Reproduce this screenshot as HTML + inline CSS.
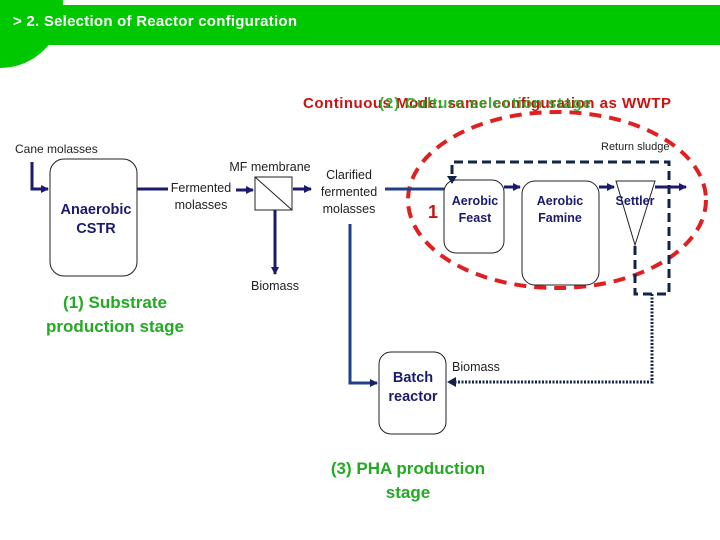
<!DOCTYPE html>
<html><head><meta charset="utf-8"><style>
html,body{margin:0;padding:0;background:#fff;}
svg{display:block}
.s{font-family:"Liberation Sans",sans-serif;}
</style></head><body>
<svg width="720" height="540" viewBox="0 0 720 540" xmlns="http://www.w3.org/2000/svg" class="s">
<defs>
<marker id="a" markerWidth="10" markerHeight="10" refX="7" refY="5" orient="auto" markerUnits="userSpaceOnUse"><path d="M0,1 L8,5 L0,9 z" fill="#1a1a6e"/></marker>
</defs>
<rect x="0" y="5" width="720" height="40" fill="#00c800"/>
<circle cx="0" cy="5" r="63" fill="#00c800"/>
<text x="13" y="26" font-size="15" font-weight="bold" fill="#fff" textLength="284">&gt; 2. Selection of Reactor configuration</text>

<text x="303" y="108" font-size="15" font-weight="bold" fill="#cc1111" textLength="368">Continuous Mode: same configuration as WWTP</text>
<text x="379" y="108" font-size="15" font-weight="bold" fill="#22aa22" textLength="212" opacity="0.9">(2) Culture selection stage</text>

<ellipse cx="557" cy="200" rx="149" ry="88" fill="none" stroke="#e02020" stroke-width="4" stroke-dasharray="12,8"/>
<text x="428" y="218" font-size="18" font-weight="bold" fill="#cc1111">1</text>

<text x="15" y="153" font-size="12" fill="#222">Cane molasses</text>
<polyline points="32,162 32,189 48,189" fill="none" stroke="#1a1a6e" stroke-width="3" marker-end="url(#a)"/>
<rect x="50" y="159" width="87" height="117" rx="14" fill="none" stroke="#222" stroke-width="1"/>
<text x="96" y="214" font-size="14.5" font-weight="bold" fill="#1a1a6e" text-anchor="middle">Anaerobic</text>
<text x="96" y="233" font-size="14.5" font-weight="bold" fill="#1a1a6e" text-anchor="middle">CSTR</text>
<line x1="137" y1="189" x2="168" y2="189" stroke="#1a1a6e" stroke-width="3"/>
<text x="201" y="192" font-size="12.5" fill="#222" text-anchor="middle">Fermented</text>
<text x="201" y="209" font-size="12.5" fill="#222" text-anchor="middle">molasses</text>
<line x1="236" y1="190" x2="253" y2="190" stroke="#1a1a6e" stroke-width="3" marker-end="url(#a)"/>
<text x="270" y="171" font-size="12.5" fill="#222" text-anchor="middle">MF membrane</text>
<rect x="255" y="177" width="37" height="33" fill="#fff" stroke="#222" stroke-width="1"/>
<line x1="255" y1="177" x2="292" y2="210" stroke="#222" stroke-width="1"/>
<line x1="293" y1="189" x2="311" y2="189" stroke="#1a1a6e" stroke-width="3" marker-end="url(#a)"/>
<text x="349" y="179" font-size="12.5" fill="#222" text-anchor="middle">Clarified</text>
<text x="349" y="196" font-size="12.5" fill="#222" text-anchor="middle">fermented</text>
<text x="349" y="213" font-size="12.5" fill="#222" text-anchor="middle">molasses</text>
<line x1="275" y1="210" x2="275" y2="274" stroke="#1a1a6e" stroke-width="3" marker-end="url(#a)"/>
<text x="275" y="290" font-size="12.5" fill="#222" text-anchor="middle">Biomass</text>

<text x="115" y="308" font-size="17" font-weight="bold" fill="#22aa22" text-anchor="middle">(1) Substrate</text>
<text x="115" y="332" font-size="17" font-weight="bold" fill="#22aa22" text-anchor="middle">production stage</text>

<line x1="385" y1="189" x2="444" y2="189" stroke="#1f3f8a" stroke-width="3"/>
<polyline points="350,224 350,383 377,383" fill="none" stroke="#1f3f8a" stroke-width="3" marker-end="url(#a)"/>

<rect x="444" y="180" width="60" height="73" rx="12" fill="none" stroke="#222" stroke-width="1"/>
<text x="475" y="205" font-size="12.5" font-weight="bold" fill="#1a1a6e" text-anchor="middle">Aerobic</text>
<text x="475" y="222" font-size="12.5" font-weight="bold" fill="#1a1a6e" text-anchor="middle">Feast</text>
<line x1="504" y1="187" x2="520" y2="187" stroke="#1a1a6e" stroke-width="3" marker-end="url(#a)"/>
<rect x="522" y="181" width="77" height="104" rx="13" fill="none" stroke="#222" stroke-width="1"/>
<text x="560" y="205" font-size="12.5" font-weight="bold" fill="#1a1a6e" text-anchor="middle">Aerobic</text>
<text x="560" y="222" font-size="12.5" font-weight="bold" fill="#1a1a6e" text-anchor="middle">Famine</text>
<line x1="599" y1="187" x2="614" y2="187" stroke="#1a1a6e" stroke-width="3" marker-end="url(#a)"/>
<polygon points="616,181 655,181 635,245" fill="none" stroke="#222" stroke-width="1"/>
<text x="635" y="205" font-size="12.5" font-weight="bold" fill="#1a1a6e" text-anchor="middle">Settler</text>
<line x1="655" y1="187" x2="686" y2="187" stroke="#1a1a6e" stroke-width="3" marker-end="url(#a)"/>
<text x="601" y="150" font-size="11" fill="#222">Return sludge</text>

<polyline points="635,246 635,294 669,294 669,162 452,162 452,177" fill="none" stroke="#12244a" stroke-width="3" stroke-dasharray="9,5"/>
<path d="M447,176 L452,184 L457,176 z" fill="#12244a"/>
<polyline points="652,294 652,382 450,382" fill="none" stroke="#12244a" stroke-width="3" stroke-dasharray="2,1.5"/>
<path d="M456,377 L447,382 L456,387 z" fill="#12244a"/>
<text x="452" y="371" font-size="12.5" fill="#222">Biomass</text>

<rect x="379" y="352" width="67" height="82" rx="12" fill="none" stroke="#222" stroke-width="1"/>
<text x="413" y="382" font-size="14.5" font-weight="bold" fill="#1a1a6e" text-anchor="middle">Batch</text>
<text x="413" y="401" font-size="14.5" font-weight="bold" fill="#1a1a6e" text-anchor="middle">reactor</text>

<text x="408" y="474" font-size="17" font-weight="bold" fill="#22aa22" text-anchor="middle">(3) PHA production</text>
<text x="408" y="498" font-size="17" font-weight="bold" fill="#22aa22" text-anchor="middle">stage</text>
</svg>
</body></html>
